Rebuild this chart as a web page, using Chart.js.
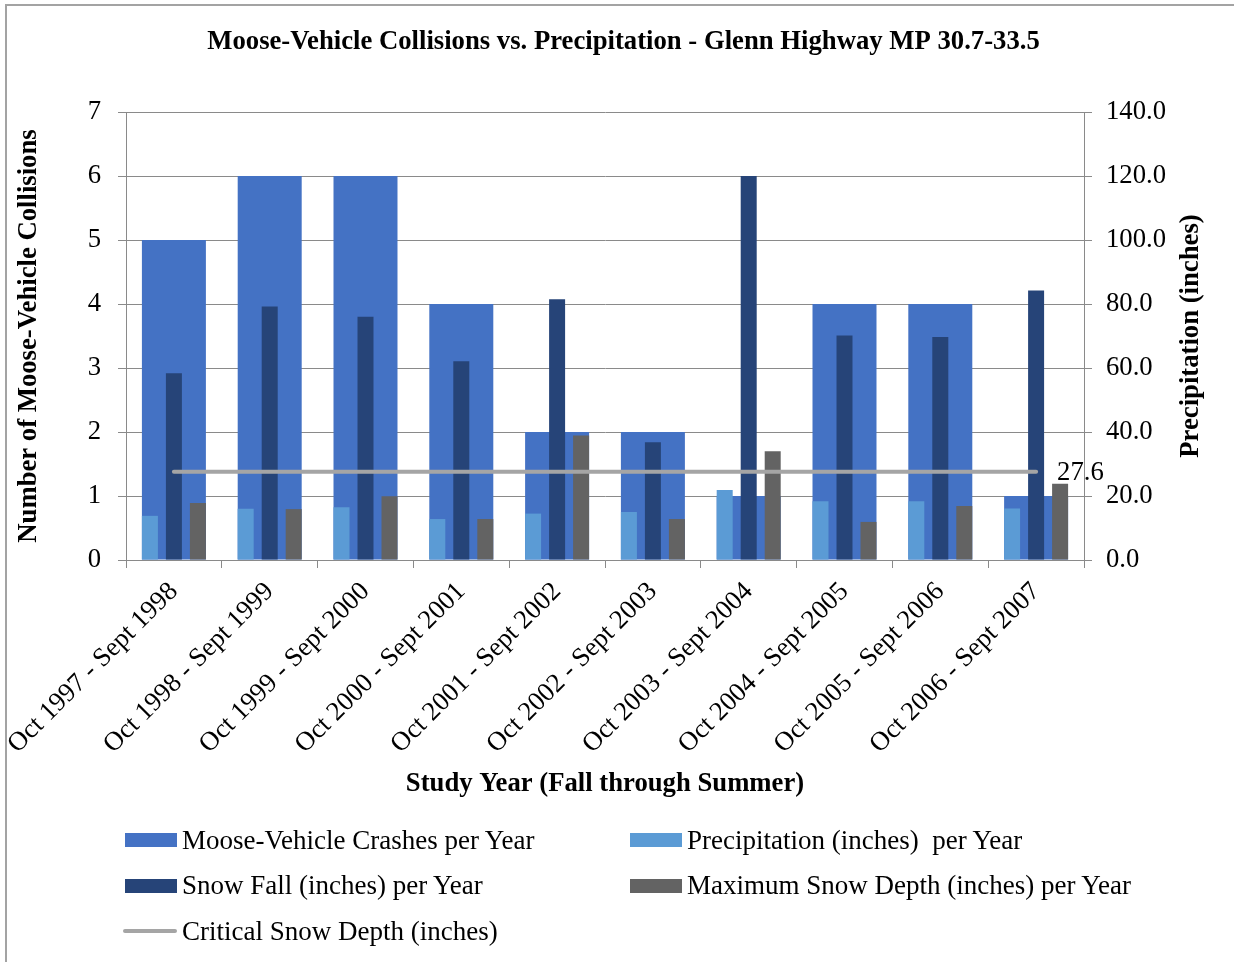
<!DOCTYPE html>
<html>
<head>
<meta charset="utf-8">
<script src="https://cdn.jsdelivr.net/npm/chart.js@4.4.1/dist/chart.umd.min.js"></script>
<style>
  html, body { margin: 0; padding: 0; background: #fff; }
  #wrap { position: relative; width: 1234px; height: 962px; overflow: hidden; }
  #frame { position: absolute; left: 5px; top: 4px; width: 1300px; height: 1000px;
           border-left: 2px solid #a3a3a3; border-top: 2px solid #a3a3a3; }
  #c { position: absolute; left: 0; top: 0; }
  #legend { position: absolute; left: 0; top: 0; width: 1234px; height: 962px; pointer-events: none;
            font-family: 'Liberation Serif', 'Times New Roman', serif; font-size: 27px; color: #000; }
  .item { position: absolute; display: flex; align-items: center; height: 30px; white-space: pre; }
  .sw { width: 52px; height: 14px; margin-right: 5px; }
  .ln { width: 54px; height: 4px; border-radius: 2px; margin-right: 5px; }
</style>
</head>
<body>
<div id="wrap">
  <div id="frame"></div>
  <canvas id="c" width="1234" height="962"></canvas>
  <div id="legend"></div>
</div>
<script>
// Study years (October through September)
const studyYears = [
  'Oct 1997 - Sept 1998', 'Oct 1998 - Sept 1999', 'Oct 1999 - Sept 2000',
  'Oct 2000 - Sept 2001', 'Oct 2001 - Sept 2002', 'Oct 2002 - Sept 2003',
  'Oct 2003 - Sept 2004', 'Oct 2004 - Sept 2005', 'Oct 2005 - Sept 2006',
  'Oct 2006 - Sept 2007'
];
// Moose-vehicle crashes per study year (left axis)
const crashes = [5, 6, 6, 4, 2, 2, 1, 4, 4, 1];
// Weather totals in inches (right axis)
const precipitation = [13.8, 16.0, 16.5, 12.8, 14.5, 15.0, 21.9, 18.4, 18.4, 16.1];
const snowFall = [58.4, 79.2, 76.0, 62.1, 81.5, 36.8, 120.0, 70.2, 69.7, 84.2];
const maxSnowDepth = [17.8, 15.9, 19.9, 12.8, 38.9, 12.8, 34.0, 11.9, 16.9, 23.8];
const criticalSnowDepth = 27.6;
// Axis ranges
const collisionAxis = { min: 0, max: 7, step: 1 };
const inchesAxis = { min: 0, max: 140, step: 20 };
const rightAxisTitle = 'Precipitation (inches)';

const FONT = "'Liberation Serif', 'Times New Roman', serif";
const FS = 26.7;
const GRID = '#8a8a8a';

Chart.defaults.font.family = FONT;
Chart.defaults.font.size = FS;
Chart.defaults.color = '#000';

// Value label at the end of the critical depth line, and the right axis
// title written bottom-to-top like the left one
const extras = {
  id: 'extras',
  afterDatasetsDraw(chart) {
    const idx = chart.data.datasets.findIndex(d => d.type === 'line');
    const meta = chart.getDatasetMeta(idx);
    const pt = meta.data[meta.data.length - 1];
    const ctx = chart.ctx;
    ctx.save();
    ctx.font = FS + 'px ' + FONT;
    ctx.fillStyle = '#000';
    ctx.textAlign = 'left';
    ctx.textBaseline = 'middle';
    ctx.fillText(criticalSnowDepth.toFixed(1), pt.x + 21, pt.y + 1);
    ctx.restore();
  },
  afterDraw(chart) {
    const ctx = chart.ctx;
    const a = chart.chartArea;
    const s = chart.scales.y1;
    ctx.save();
    ctx.translate(s.right - 43, (a.top + a.bottom) / 2);
    ctx.rotate(-Math.PI / 2);
    ctx.font = 'bold ' + FS + 'px ' + FONT;
    ctx.fillStyle = '#000';
    ctx.textAlign = 'center';
    ctx.textBaseline = 'middle';
    ctx.fillText(rightAxisTitle, 0, 0);
    ctx.restore();
  }
};

const chart = new Chart(document.getElementById('c'), {
  data: {
    labels: studyYears,
    datasets: [
      { type: 'bar', label: 'Moose-Vehicle Crashes per Year', data: crashes,
        backgroundColor: '#4472C4', xAxisID: 'x', yAxisID: 'y', order: 3,
        grouped: false, barPercentage: 1, categoryPercentage: 0.668 },
      { type: 'bar', label: 'Precipitation (inches)  per Year', data: precipitation,
        backgroundColor: '#5B9BD5', xAxisID: 'x', yAxisID: 'y1', order: 2,
        barPercentage: 0.6667, categoryPercentage: 0.7516 },
      { type: 'bar', label: 'Snow Fall (inches) per Year', data: snowFall,
        backgroundColor: '#264478', xAxisID: 'x', yAxisID: 'y1', order: 2,
        barPercentage: 0.6667, categoryPercentage: 0.7516 },
      { type: 'bar', label: 'Maximum Snow Depth (inches) per Year', data: maxSnowDepth,
        backgroundColor: '#636363', xAxisID: 'x', yAxisID: 'y1', order: 2,
        barPercentage: 0.6667, categoryPercentage: 0.7516 },
      { type: 'line', label: 'Critical Snow Depth (inches)',
        data: studyYears.map(() => criticalSnowDepth),
        borderColor: '#A5A5A5', backgroundColor: '#A5A5A5', borderWidth: 4,
        borderCapStyle: 'round', pointRadius: 0, tension: 0,
        xAxisID: 'x', yAxisID: 'y1', order: 0 }
    ]
  },
  options: {
    responsive: false,
    animation: false,
    devicePixelRatio: 1,
    layout: { padding: { left: 13, right: 0, top: 0, bottom: 152 } },
    plugins: {
      legend: { display: false },
      tooltip: { enabled: false },
      title: {
        display: true,
        text: 'Moose-Vehicle Collisions vs. Precipitation - Glenn Highway MP 30.7-33.5',
        font: { size: FS, weight: 'bold', family: FONT },
        color: '#000',
        padding: { top: 26, bottom: 54 }
      }
    },
    scales: {
      x: {
        type: 'category', position: 'bottom', offset: true,
        grid: { offset: true, drawOnChartArea: false, drawTicks: true, tickLength: 8, color: GRID },
        border: { display: true, color: GRID, width: 1 },
        ticks: { autoSkip: false, minRotation: 45, maxRotation: 45, padding: 8, font: { size: FS } },
        title: { display: true, text: 'Study Year (Fall through Summer)',
                 font: { size: FS, weight: 'bold' }, padding: { top: 0, bottom: 10 } },
        afterFit(s) { s.height = 250; s.paddingLeft = 0; s.paddingRight = 0; }
      },
      y: {
        position: 'left', min: collisionAxis.min, max: collisionAxis.max,
        grid: { color: GRID, lineWidth: 1, drawTicks: true, tickLength: 8 },
        border: { display: true, color: GRID, width: 1 },
        ticks: { stepSize: collisionAxis.step, padding: 17, font: { size: FS } },
        title: { display: true, text: 'Number of Moose-Vehicle Collisions',
                 font: { size: FS, weight: 'bold' }, padding: { top: 0, bottom: 0 } },
        afterFit(s) { s.width = 113; }
      },
      y1: {
        position: 'right', min: inchesAxis.min, max: inchesAxis.max,
        grid: { drawOnChartArea: false, color: GRID, drawTicks: true, tickLength: 8 },
        border: { display: true, color: GRID, width: 1 },
        ticks: { stepSize: inchesAxis.step, padding: 14, font: { size: FS },
                 callback: v => Number(v).toFixed(1) },
        afterFit(s) { s.width = 150; }
      }
    }
  },
  plugins: [extras]
});

// Two-column legend built from the chart's datasets
const legendEl = document.getElementById('legend');
chart.data.datasets.forEach((ds, i) => {
  const col = i % 2, row = Math.floor(i / 2);
  const item = document.createElement('div');
  item.className = 'item';
  item.style.left = (col ? 630 : 125) + 'px';
  item.style.top = (825 + row * 45.5) + 'px';
  const mark = document.createElement('span');
  mark.className = ds.type === 'line' ? 'ln' : 'sw';
  mark.style.background = ds.type === 'line' ? ds.borderColor : ds.backgroundColor;
  if (ds.type === 'line') mark.style.marginLeft = '-2px';
  const txt = document.createElement('span');
  txt.textContent = ds.label;
  item.appendChild(mark);
  item.appendChild(txt);
  legendEl.appendChild(item);
});
</script>
</body>
</html>
